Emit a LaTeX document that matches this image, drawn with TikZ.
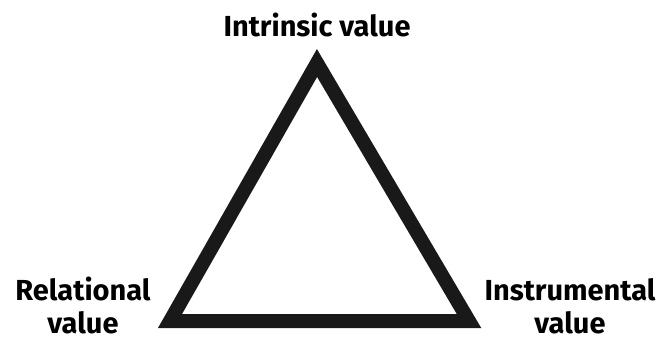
\documentclass[tikz,border=0pt]{standalone}
\usepackage{fontspec}
\setmainfont{Fira Sans}
\begin{document}
\begin{tikzpicture}[x=1pt,y=-1pt,
  lbl/.style={font=\bfseries\fontsize{29}{36}\selectfont,inner sep=0pt}]
	\useasboundingbox (0,0) rectangle (661,340);
	% corners of the triangle
	\coordinate (Top) at (317,63);
	\coordinate (Left) at (170,321);
	\coordinate (Right) at (469,321);
	\draw[line width=14pt,line join=miter,color=black!90] (Top)--(Left)--(Right)--cycle;
	% labels
	\node[lbl,anchor=base] (intrinsic) at (317,36) {Intrinsic value};
	\node[lbl,anchor=base] (relational) at (83,300) {Relational};
	\node[lbl,anchor=base] (relval) at (83,333) {value};
	\node[lbl,anchor=base] (instrumental) at (570,300) {Instrumental};
	\node[lbl,anchor=base] (instval) at (570,333) {value};
\end{tikzpicture}
\end{document}
